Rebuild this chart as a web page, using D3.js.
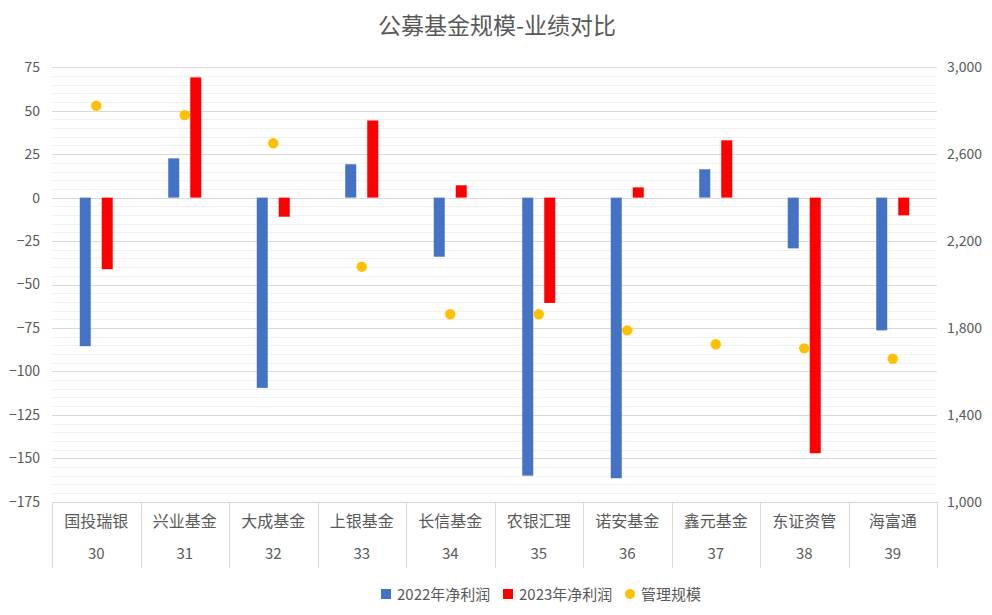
<!DOCTYPE html>
<html><head><meta charset="utf-8">
<script src="https://cdn.jsdelivr.net/npm/d3@7"></script>
<style>
body{margin:0;background:#fff;}
text{font-family:"Noto Sans CJK SC","Microsoft YaHei",sans-serif;}
</style></head>
<body><svg id="c" width="992" height="615"></svg>
<script>
const categories = ["国投瑞银","兴业基金","大成基金","上银基金","长信基金","农银汇理","诺安基金","鑫元基金","东证资管","海富通"];
const ranks = ["30","31","32","33","34","35","36","37","38","39"];
const profit2022 = [-85.5, 22.6, -109.5, 19.2, -34, -160, -161.5, 16.3, -29.2, -76.4];
const profit2023 = [-41.2, 69.2, -11, 44.4, 7.1, -60.6, 5.9, 33, -147.1, -10.2];
const aum = [2823, 2780, 2650, 2082, 1863, 1863, 1789, 1725, 1706, 1658];
const leftTicks = [-175,-150,-125,-100,-75,-50,-25,0,25,50,75];
const rightTicks = [1000,1400,1800,2200,2600,3000];
const seriesNames = ["2022年净利润","2023年净利润","管理规模"];
const colors = ["#4472C4","#FF0000","#FFC000"];

const svg = d3.select("#c");
const L = 52, R = 937, T = 67.3, B = 501.7;
const x = d3.scaleBand().domain(d3.range(categories.length)).range([L,R]).padding(0);
const x1 = d3.scaleBand().domain([0,1]).range([-16.5,16.5]).paddingInner(0.5);
const y = d3.scaleLinear().domain([-175,75]).range([B,T]);
const y2 = d3.scaleLinear().domain([1000,3000]).range([B,T]);

// minor grid
const minor = d3.range(-175,76,5).filter(v => v % 25 !== 0);
svg.append("g").selectAll("line").data(minor).join("line")
  .attr("x1",L).attr("x2",R).attr("y1",d=>Math.round(y(d))+0.5).attr("y2",d=>Math.round(y(d))+0.5)
  .attr("stroke","#f0f0f0").attr("stroke-width",1);
svg.append("g").selectAll("line").data(leftTicks).join("line")
  .attr("x1",L).attr("x2",R).attr("y1",d=>Math.round(y(d))+0.5).attr("y2",d=>Math.round(y(d))+0.5)
  .attr("stroke","#d9d9d9").attr("stroke-width",1);

// bars
const series = [profit2022, profit2023];
series.forEach((arr,si)=>{
  svg.append("g").selectAll("rect").data(arr).join("rect")
    .attr("x",(d,i)=>x(i)+x.bandwidth()/2+x1(si))
    .attr("width",x1.bandwidth())
    .attr("y",d=>y(Math.max(0,d)))
    .attr("height",d=>Math.abs(y(d)-y(0)))
    .attr("fill",colors[si]);
});
// dots
svg.append("g").selectAll("circle").data(aum).join("circle")
  .attr("cx",(d,i)=>x(i)+x.bandwidth()/2).attr("cy",d=>y2(d)).attr("r",5.2)
  .attr("fill",colors[2]);

// left axis
const ax = svg.append("g").attr("transform",`translate(${L-12},0)`)
  .call(d3.axisLeft(y).tickValues(leftTicks).tickSize(0).tickPadding(0));
ax.select(".domain").remove();
ax.selectAll("text").attr("font-size",14).attr("fill","#595959").style("font-family","'Noto Sans CJK SC',sans-serif");
// right axis
const ay = svg.append("g").attr("transform",`translate(${R+10},0)`)
  .call(d3.axisRight(y2).tickValues(rightTicks).tickFormat(d3.format(",")).tickSize(0).tickPadding(0));
ay.select(".domain").remove();
ay.selectAll("text").attr("font-size",14).attr("fill","#595959").style("font-family","'Noto Sans CJK SC',sans-serif");

// category axis
const edges = d3.range(categories.length+1).map(i => i<categories.length ? x(i) : R);
svg.append("g").selectAll("line").data(edges).join("line")
  .attr("x1",d=>Math.round(d)+0.5).attr("x2",d=>Math.round(d)+0.5)
  .attr("y1",B).attr("y2",568).attr("stroke","#d9d9d9");
svg.append("g").selectAll("text").data(categories).join("text")
  .attr("x",(d,i)=>x(i)+x.bandwidth()/2).attr("y",527).attr("text-anchor","middle")
  .attr("font-size",16).attr("fill","#595959").text(d=>d);
svg.append("g").selectAll("text").data(ranks).join("text")
  .attr("x",(d,i)=>x(i)+x.bandwidth()/2).attr("y",559).attr("text-anchor","middle")
  .attr("font-size",15).attr("fill","#595959").text(d=>d);

// title
svg.append("text").attr("x",497).attr("y",34).attr("text-anchor","middle")
  .attr("font-size",23).attr("fill","#595959").text("公募基金规模-业绩对比");

// legend
const lg = svg.append("g");
const lx = [381, 503, 625];
seriesNames.forEach((n,i)=>{
  if(i<2) lg.append("rect").attr("x",lx[i]).attr("y",589).attr("width",10).attr("height",10).attr("fill",colors[i]);
  else lg.append("circle").attr("cx",lx[i]+5).attr("cy",594).attr("r",5).attr("fill",colors[i]);
  lg.append("text").attr("x",lx[i]+16).attr("y",599.5).attr("font-size",15).attr("fill","#595959").text(n);
});
</script></body></html>
